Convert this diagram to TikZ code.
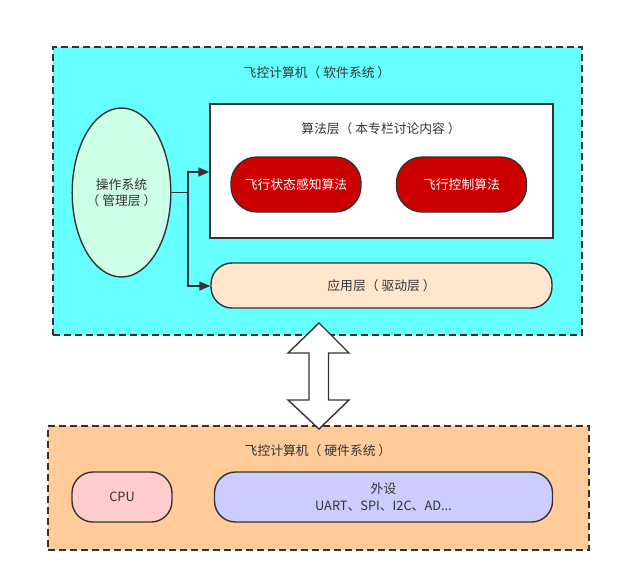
\documentclass[tikz,border=0pt]{standalone}
\usepackage{fontspec}
\setmainfont{Noto Sans CJK SC}
\usetikzlibrary{shapes.geometric,arrows.meta}
\definecolor{swbg}{HTML}{66FFFF}
\definecolor{hwbg}{HTML}{FFCC99}
\definecolor{osbg}{HTML}{CCFFE6}
\definecolor{redfill}{HTML}{CC0000}
\definecolor{appbg}{HTML}{FFE6CC}
\definecolor{cpubg}{HTML}{FFCCCC}
\definecolor{perbg}{HTML}{CCCCFF}
\definecolor{ln}{HTML}{333333}
\definecolor{txt}{HTML}{333333}
\begin{document}
\begin{tikzpicture}[x=1pt,y=-1pt,
  every node/.style={font=\fontsize{12.8}{16.5}\selectfont, text=txt, inner sep=0pt},
  dashbox/.style={draw=ln, line width=1.2pt, dash pattern=on 7pt off 4pt, rectangle},
  solidbox/.style={draw=ln, line width=1.4pt, rectangle},
  pill/.style={draw=ln, line width=1.4pt, rectangle, rounded corners=#1},
  redpill/.style={pill=26pt, fill=redfill, text=white, minimum width=130pt, minimum height=55pt},
  conn/.style={draw=ln, line width=1.4pt},
  arr/.style={conn, -{Triangle[length=11pt,width=9pt]}}
]
\useasboundingbox (0,0) rectangle (620,582);
% software system
\node[dashbox, fill=swbg, minimum width=529pt, minimum height=288pt] (sw) at (317.5,191) {};
\node (swt) at (317,73) {飞控计算机（ 软件系统 ）};
\node[ellipse, draw=ln, line width=1.4pt, fill=osbg, minimum width=88pt, minimum height=169pt, align=center] (os) at (121.5,192.5) {操作系统\\（ 管理层 ）};
\node[solidbox, fill=white, minimum width=343pt, minimum height=134pt] (alg) at (381.5,171) {};
\node (algt) at (381,129) {算法层（ 本专栏讨论内容 ）};
\node[redpill] (r1) at (296,184.5) {飞行状态感知算法};
\node[redpill] (r2) at (461.5,184.5) {飞行控制算法};
\node[pill=21pt, fill=appbg, minimum width=341pt, minimum height=45pt] (app) at (381.5,285.5) {应用层（ 驱动层 ）};
\coordinate (j) at (188,192.5);
\coordinate (jt) at (188,172);
\coordinate (jb) at (188,286);
\draw[arr] (os.east) -| (jt) -- (jt -| alg.west);
\draw[arr] (j) |- (jb -| app.west);
% hardware system
\node[dashbox, fill=hwbg, minimum width=541pt, minimum height=124pt] (hw) at (318.5,488) {};
\node (hwt) at (318,451) {飞控计算机（ 硬件系统 ）};
\node[pill=21pt, fill=cpubg, minimum width=100pt, minimum height=50pt] (cpu) at (122,497) {CPU};
\node[pill=21pt, fill=perbg, minimum width=338pt, minimum height=50pt, align=center] (per) at (383.5,497) {外设\\UART、SPI、I2C、AD...};
% double arrow between systems
\draw[conn, fill=white, line join=miter] (319,323) -- (349,353) -- (328.5,353) -- (328.5,400) -- (349,400) -- (319,429)
  -- (288,400) -- (309,400) -- (309,353) -- (288,353) -- cycle;
\end{tikzpicture}
\end{document}
